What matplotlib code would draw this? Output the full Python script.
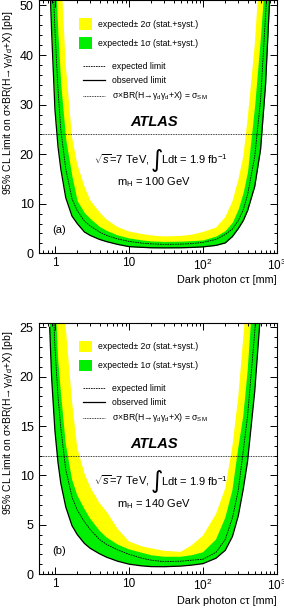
import numpy as np
import matplotlib
matplotlib.use("Agg")
import matplotlib.pyplot as plt
from matplotlib.patches import Rectangle
from matplotlib.lines import Line2D
from matplotlib.ticker import LogLocator, MultipleLocator, NullFormatter

plt.rcParams['font.family'] = ['Liberation Sans', 'DejaVu Sans']
plt.rcParams['mathtext.fontset'] = 'custom'
plt.rcParams['mathtext.rm'] = 'Liberation Sans'
plt.rcParams['mathtext.it'] = 'Liberation Sans:italic'
plt.rcParams['mathtext.bf'] = 'Liberation Sans:bold'

# dark photon c*tau [mm], common grid for all curves
ct = [0.85, 0.9, 1.0, 1.1, 1.2, 1.4, 1.7, 2, 2.5, 3, 4, 5, 7, 10, 15, 20, 30, 50,
      70, 100, 150, 200, 250, 300, 350, 400, 500, 600, 700, 800, 900, 1000]

# (a) mH = 100 GeV  [pb]
obs_a = [56, 45, 29, 21.5, 17, 11.2, 7.5, 6.0, 4.3, 3.6, 2.8, 2.35, 1.8, 1.35, 1.2, 1.12,
         1.1, 1.12, 1.18, 1.3, 1.6, 2.1, 3.4, 5.0, 6.6, 8.6, 13.5, 21, 34, 52, 70, 90]
exp_a = [75, 62, 45, 33, 25, 17, 11, 8.6, 6.5, 5.5, 4.3, 3.6, 2.9, 2.4, 2.05, 1.9,
         1.8, 1.85, 1.95, 2.2, 2.8, 3.8, 4.9, 6.6, 8.8, 11.8, 19.5, 31, 48, 62, 80, 100]
p1s_a = [110, 90, 58, 44, 34, 23, 15.5, 10.6, 8.2, 7.0, 5.4, 4.6, 3.7, 3.1, 2.7, 2.5,
         2.4, 2.45, 2.55, 2.7, 3.5, 4.6, 6.3, 9.0, 12.4, 16.5, 30, 44, 58, 75, 95, 120]
p2s_a = [200, 170, 120, 80, 58, 38, 23.5, 18, 13.5, 10.7, 8.3, 6.8, 5.3, 4.4, 3.9, 3.6,
         3.4, 3.5, 3.75, 4.3, 5.2, 7.3, 10.5, 14.8, 19.5, 27, 42, 60, 80, 100, 120, 150]

# (b) mH = 140 GeV  [pb]
obs_b = [25, 20, 14.5, 11.3, 9.2, 6.8, 4.9, 4.0, 3.1, 2.6, 2.05, 1.7, 1.3, 1.0, 0.82, 0.75,
         0.74, 0.8, 0.9, 1.05, 1.6, 2.4, 3.8, 5.9, 8.6, 11.4, 18.5, 26.5, 35, 45, 55, 65]
exp_b = [40, 32, 23, 18, 14.8, 10.6, 7.8, 6.5, 5.3, 4.5, 3.5, 3.0, 2.45, 2.0, 1.6, 1.4,
         1.25, 1.3, 1.4, 1.5, 2.2, 3.5, 5.7, 8.5, 12.5, 16, 24.5, 34, 44, 55, 66, 78]
p1s_b = [60, 45, 29, 22, 18.5, 13.2, 9.6, 8.0, 6.6, 5.6, 4.4, 3.7, 3.0, 2.5, 2.15, 1.9,
         1.75, 1.75, 1.9, 2.2, 3.5, 5.7, 8.5, 12.8, 16, 20.5, 31, 42, 53, 65, 78, 90]
p2s_b = [120, 95, 60, 45, 36, 25, 17.5, 12.8, 10.2, 8.8, 7.2, 6.3, 4.6, 3.3, 2.8, 2.6,
         2.35, 2.25, 2.9, 3.9, 6.1, 8.7, 13, 18, 24, 29, 42, 55, 68, 82, 95, 110]

sm_xsec = [24, 12]
mass_labels = ['100', '140']
panel_tags = ['(a)', '(b)']

YELLOW = '#ffff00'
GREEN = '#00ee00'

fig = plt.figure(figsize=(2.84, 6.08), dpi=100)
ax_a = fig.add_axes([0.1356, 0.5834, 0.8398, 0.4166])
ax_b = fig.add_axes([0.1356, 0.0559, 0.8398, 0.4133])

panels = [
    (ax_a, obs_a, exp_a, p1s_a, p2s_a, 51.1, 10, 2),
    (ax_b, obs_b, exp_b, p1s_b, p2s_b, 25.47, 5, 1),
]

for i, (ax, obs, exp, p1, p2, ytop, ymaj, ymin) in enumerate(panels):
    # lower edge of both bands sits on the observed limit
    ax.fill_between(ct, obs, p2, color=YELLOW, lw=0)
    ax.fill_between(ct, obs, p1, color=GREEN, lw=0)
    ax.plot(ct, exp, color='black', lw=0.6, ls=(0, (2, 1)))
    ax.plot(ct, obs, color='black', lw=0.9)
    ax.axhline(sm_xsec[i], color='black', lw=0.6, ls=(0, (1, 1)))

    ax.set_xscale('log')
    ax.set_xlim(0.6, 1000)
    ax.set_ylim(0, ytop)
    ax.set_xticks([1, 10, 100, 1000])
    ax.set_xticklabels(['1', '10', r'10$^{2}$', r'10$^{3}$'])
    ax.xaxis.set_minor_locator(LogLocator(base=10, subs=np.arange(2, 10)))
    ax.xaxis.set_minor_formatter(NullFormatter())
    ax.yaxis.set_major_locator(MultipleLocator(ymaj))
    ax.yaxis.set_minor_locator(MultipleLocator(ymin))
    ax.tick_params(which='both', direction='in', top=True, right=True, labelsize=9, width=0.7)
    ax.tick_params(which='major', length=5)
    ax.tick_params(which='minor', length=2.5)
    ax.tick_params(axis='x', pad=3, labelsize=8.5)
    for s in ax.spines.values():
        s.set_linewidth(0.8)

    # legend drawn by hand
    tr = ax.transAxes
    ax.add_patch(Rectangle((0.170, 0.882), 0.055, 0.047, transform=tr, color=YELLOW, lw=0))
    ax.add_patch(Rectangle((0.170, 0.806), 0.055, 0.047, transform=tr, color=GREEN, lw=0))
    ax.text(0.249, 0.905, 'expected\u00b1 2σ (stat.+syst.)', transform=tr,
            fontsize=6.2, va='center')
    ax.text(0.249, 0.829, 'expected\u00b1 1σ (stat.+syst.)', transform=tr,
            fontsize=6.2, va='center')
    entries = [
        ((0, (2, 1)), 'expected limit', 0.739),
        ('-', 'observed limit', 0.684),
        ((0, (1, 1)), r'σ×BR(H→γ$_{\mathrm{d}}$γ$_{\mathrm{d}}$+X) = σ$_{\mathrm{SM}}$', 0.622),
    ]
    for ls, lab, yy in entries:
        ax.add_line(Line2D([0.187, 0.279], [yy, yy], transform=tr, color='black',
                           lw=0.6 if ls != '-' else 0.9, ls=ls))
        ax.text(0.308, yy, lab, transform=tr, fontsize=6.2, va='center')

    ax.text(0.485, 0.518, 'ATLAS', transform=tr, fontsize=10.5, fontweight='bold',
            fontstyle='italic', ha='center', va='center')
    ax.text(0.232, 0.37, r'$\sqrt{s}$=7 TeV,', transform=tr, fontsize=8, va='center')
    ax.text(0.468, 0.37, '\u222b', transform=tr, fontsize=17, va='center',
            family='DejaVu Sans')
    ax.text(0.515, 0.37, r'Ldt = 1.9 fb$^{-1}$', transform=tr, fontsize=8, va='center')
    ax.text(0.485, 0.28, r'm$_{\mathrm{H}}$ = ' + mass_labels[i] + ' GeV', transform=tr,
            fontsize=8, ha='center', va='center')
    ax.text(0.057, 0.092, panel_tags[i], transform=tr, fontsize=8, va='center')

ylab = r'95% CL Limit on σ×BR(H→γ$_{\mathrm{d}}$γ$_{\mathrm{d}}$+X) [pb]'
fig.text(0.028, 0.831, ylab, rotation=90, fontsize=7.5, ha='center', va='center')
fig.text(0.028, 0.304, ylab, rotation=90, fontsize=7.5, ha='center', va='center')
fig.text(0.975, 0.539, 'Dark photon cτ [mm]', fontsize=7.8, ha='right', va='center')
fig.text(0.975, 0.011, 'Dark photon cτ [mm]', fontsize=7.8, ha='right', va='center')

fig.savefig('out.png', dpi=100)
